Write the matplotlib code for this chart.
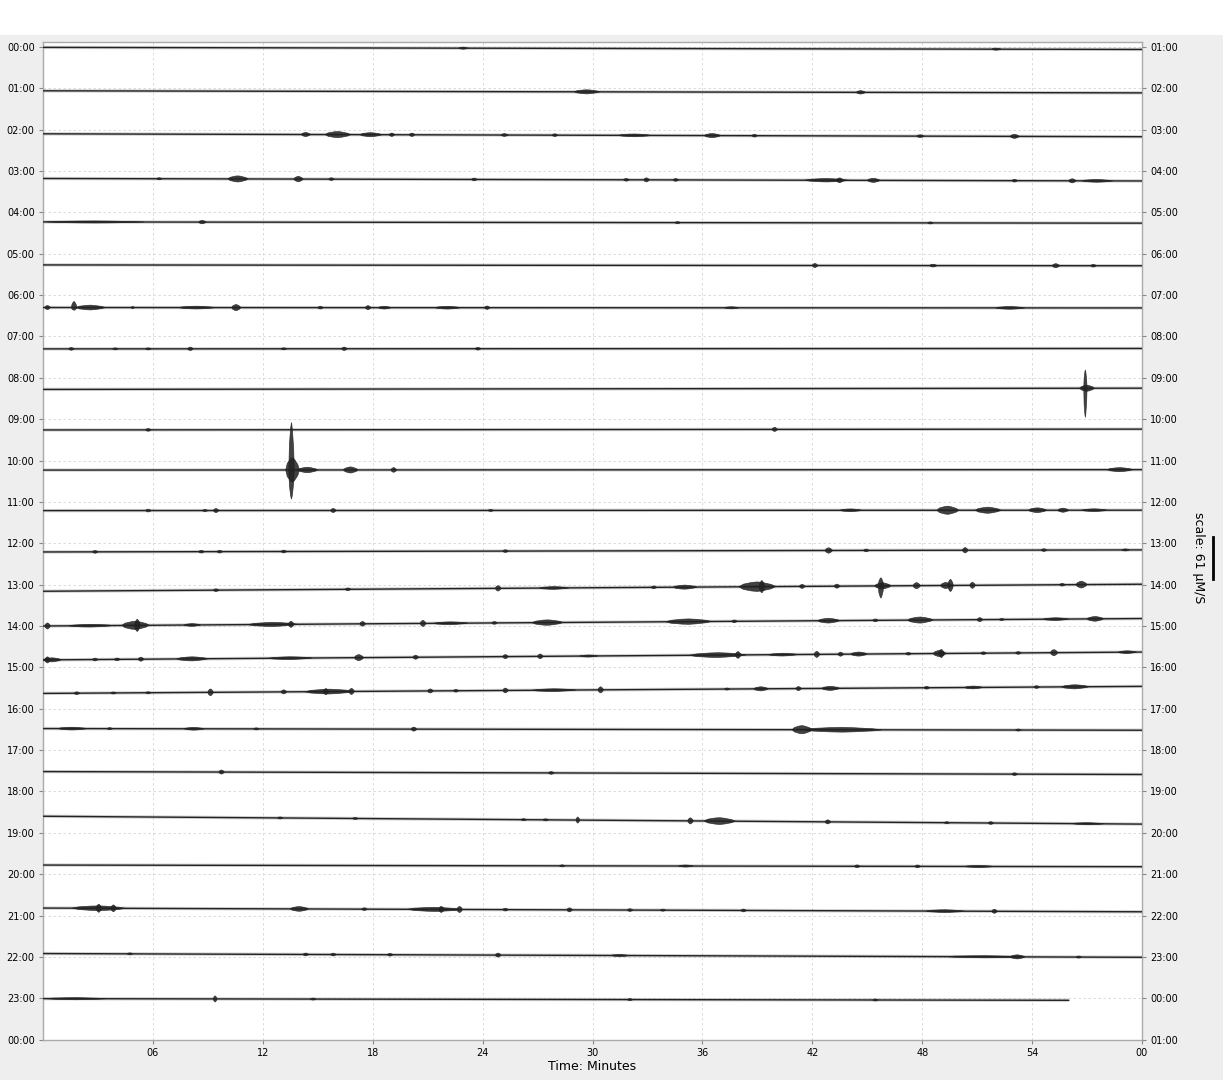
import numpy as np
import matplotlib
matplotlib.use("Agg")
import matplotlib.pyplot as plt
import matplotlib.transforms as mtransforms
from matplotlib.patches import Rectangle
from matplotlib.lines import Line2D

# helicorder: one trace per hour, time in minutes along x
left_labels = [f"{h:02d}:00" for h in range(24)] + ["00:00"]
right_labels = [f"{(h + 1) % 24:02d}:00" for h in range(24)] + ["01:00"]
minute_ticks = [6, 12, 18, 24, 30, 36, 42, 48, 54, 60]
minute_labels = ["06", "12", "18", "24", "30", "36", "42", "48", "54", "00"]
scale_um = 61  # um/s per trace spacing

# baseline (in trace-spacing units) at start and end of each hour
trace_start = [0.01, 1.06, 2.10, 3.18, 4.23, 5.27, 6.30, 7.30, 8.28, 9.26, 10.23, 11.21,
               12.21, 13.16, 14.00, 14.82, 15.63, 16.48, 17.52, 18.60, 19.78, 20.82, 21.92, 23.01]
trace_end = [0.06, 1.11, 2.17, 3.24, 4.26, 5.29, 6.31, 7.29, 8.25, 9.24, 10.22, 11.20,
             12.16, 12.99, 13.82, 14.63, 15.46, 16.52, 17.59, 18.79, 19.82, 20.91, 22.01, 23.05]
trace_minutes = [60] * 23 + [56.0]

# bursts per hour: (start min, end min, up um/s, down um/s)
events = [
    [(22.7, 23.2, 1.5, 1.5), (51.8, 52.3, 1.5, 1.5)],
    [(29.0, 30.4, 3, 3), (44.4, 44.9, 2.5, 2.5)],
    [(14.1, 14.6, 3, 3), (15.4, 16.8, 4.5, 4.5), (17.3, 18.5, 3, 3), (18.9, 19.2, 2.5, 2.5),
     (20.0, 20.3, 2.5, 2.5), (25.0, 25.4, 2, 2), (27.8, 28.1, 2, 2), (31.4, 33.2, 2, 2),
     (36.1, 37.0, 3, 3), (38.7, 39.0, 2, 2), (47.7, 48.1, 2, 2), (52.8, 53.3, 3, 3)],
    [(6.2, 6.5, 1.5, 1.5), (10.1, 11.2, 4.5, 4.5), (13.7, 14.2, 4, 4), (15.6, 15.9, 2, 2),
     (23.4, 23.7, 2, 2), (31.7, 32.0, 2, 2), (32.8, 33.1, 3, 3), (34.4, 34.7, 2, 2),
     (41.6, 44.0, 2.5, 2.5), (43.3, 43.7, 3.5, 3.5), (45.0, 45.7, 3, 3), (52.9, 53.2, 2, 2),
     (56.0, 56.4, 3, 3), (56.7, 58.4, 2, 2)],
    [(0.2, 5.5, 1.5, 1.5), (8.5, 8.9, 2.5, 2.5), (34.5, 34.8, 1.5, 1.5), (48.3, 48.6, 1.5, 1.5)],
    [(42.0, 42.3, 3, 3), (48.4, 48.8, 2, 2), (55.1, 55.5, 3, 3), (57.2, 57.5, 2, 2)],
    [(0.1, 0.4, 3, 3), (1.55, 1.85, 9, 4), (1.8, 3.4, 3.5, 3.5), (4.8, 5.0, 1.5, 1.5),
     (7.4, 9.4, 2, 2), (10.3, 10.8, 4.5, 4.5), (15.0, 15.3, 2, 2), (17.6, 17.9, 3, 3),
     (18.3, 19.0, 2, 2), (21.4, 22.8, 2, 2), (24.1, 24.4, 2.5, 2.5), (37.2, 38.0, 1.5, 1.5),
     (52.0, 53.6, 2, 2)],
    [(1.4, 1.7, 2, 2), (3.8, 4.1, 1.5, 1.5), (5.6, 5.9, 1.5, 1.5), (7.9, 8.2, 2.5, 2.5),
     (13.0, 13.3, 1.5, 1.5), (16.3, 16.6, 2.5, 2.5), (23.6, 23.9, 2, 2)],
    [(56.6, 57.4, 4.5, 4.5), (56.82, 57.0, 27, 43)],
    [(5.6, 5.9, 2, 2), (39.8, 40.1, 3, 3)],
    [(13.25, 14.0, 18, 18), (13.42, 13.72, 70, 43), (13.9, 15.0, 4, 4), (16.4, 17.2, 4.5, 4.5),
     (19.0, 19.3, 3.5, 3.5), (58.1, 59.5, 3, 3)],
    [(5.6, 5.9, 2, 2), (8.7, 9.0, 1.5, 1.5), (9.3, 9.6, 3, 3), (15.7, 16.0, 3, 3),
     (24.3, 24.6, 1.5, 1.5), (43.5, 44.7, 2, 2), (48.8, 50.0, 6, 6), (50.9, 52.3, 4.5, 4.5),
     (53.8, 54.8, 3.5, 3.5), (55.4, 56.0, 3, 3), (56.7, 58.1, 2, 2)],
    [(2.7, 3.0, 2, 2), (8.5, 8.8, 2, 2), (9.5, 9.8, 2, 2), (13.0, 13.3, 2, 2), (25.1, 25.4, 2, 2),
     (42.7, 43.1, 4, 4), (44.8, 45.1, 2, 2), (50.2, 50.5, 4, 4), (54.5, 54.8, 2, 2),
     (58.9, 59.3, 1.5, 1.5)],
    [(9.3, 9.6, 2, 2), (16.5, 16.8, 2, 2), (24.7, 25.0, 4, 4), (27.1, 28.7, 2, 2),
     (33.2, 33.5, 2, 2), (34.4, 35.7, 3, 3), (38.0, 40.0, 7, 7), (39.1, 39.4, 9, 9),
     (41.3, 41.6, 3, 3), (43.2, 43.5, 3, 3), (45.4, 46.3, 4.5, 4.5), (45.6, 45.9, 12, 18),
     (47.5, 47.9, 4.5, 4.5), (49.0, 49.6, 4.5, 4.5), (49.4, 49.7, 9, 9), (50.6, 50.9, 4.5, 4.5),
     (55.5, 55.8, 2, 2), (56.4, 57.0, 5, 5)],
    [(0.1, 0.4, 4.5, 4.5), (1.4, 3.8, 2, 2), (4.3, 5.8, 6, 6), (5.0, 5.3, 9, 9), (7.7, 8.6, 2, 2),
     (11.2, 13.9, 3, 3), (13.4, 13.7, 4.5, 4.5), (17.3, 17.6, 3.5, 3.5), (20.6, 20.9, 4.5, 4.5),
     (21.3, 23.2, 2, 2), (24.5, 24.8, 2, 2), (26.7, 28.4, 4, 4), (34.0, 36.5, 4, 4),
     (37.6, 37.9, 2, 2), (42.3, 43.5, 3.5, 3.5), (45.3, 45.6, 2, 2), (47.2, 48.6, 4.5, 4.5),
     (51.0, 51.3, 3, 3), (52.2, 52.5, 1.5, 1.5), (54.6, 56.0, 2, 2), (57.0, 57.9, 3.5, 3.5)],
    [(0.0, 1.0, 3, 3), (0.1, 0.4, 4.5, 4.5), (2.7, 3.0, 2, 2), (3.9, 4.2, 2, 2), (5.2, 5.5, 3, 3),
     (7.3, 9.0, 3, 3), (12.3, 14.7, 2, 2), (17.0, 17.5, 4.5, 4.5), (20.2, 20.5, 3, 3),
     (25.1, 25.4, 3, 3), (27.0, 27.3, 3.5, 3.5), (29.3, 30.3, 1.5, 1.5), (35.3, 38.4, 3.5, 3.5),
     (37.8, 38.1, 5, 5), (39.6, 41.2, 2, 2), (42.1, 42.4, 4.5, 4.5), (43.4, 43.7, 3, 3),
     (44.1, 45.0, 3, 3), (47.1, 47.4, 2, 2), (48.6, 49.3, 4.5, 4.5), (48.9, 49.2, 6, 6),
     (51.2, 51.5, 2, 2), (53.1, 53.4, 2, 2), (55.0, 55.4, 4.5, 4.5), (58.7, 59.7, 2, 2)],
    [(1.7, 2.0, 2, 2), (3.7, 4.0, 1.5, 1.5), (5.6, 5.9, 1.5, 1.5), (9.0, 9.3, 5, 5),
     (13.0, 13.3, 3, 3), (14.3, 17.0, 3.5, 3.5), (15.3, 15.6, 4.5, 4.5), (16.7, 17.0, 4.5, 4.5),
     (21.0, 21.3, 3, 3), (22.4, 22.7, 2, 2), (25.1, 25.4, 3.5, 3.5), (26.7, 29.1, 2, 2),
     (30.3, 30.6, 4.5, 4.5), (37.2, 37.5, 1.5, 1.5), (38.8, 39.6, 3, 3), (41.1, 41.4, 3, 3),
     (42.5, 43.5, 3, 3), (48.1, 48.4, 2, 2), (50.3, 51.3, 2, 2), (54.1, 54.4, 2, 2),
     (55.6, 57.1, 3, 3)],
    [(0.8, 2.4, 2, 2), (3.5, 3.8, 1.5, 1.5), (7.7, 8.8, 2, 2), (11.5, 11.8, 1.5, 1.5),
     (20.1, 20.4, 3, 3), (40.9, 42.0, 6, 6), (41.5, 45.8, 3.5, 3.5), (53.1, 53.4, 1.5, 1.5)],
    [(9.6, 9.9, 3, 3), (27.6, 27.9, 2, 2), (52.9, 53.2, 2, 2)],
    [(12.8, 13.1, 1.5, 1.5), (16.9, 17.2, 1.5, 1.5), (26.1, 26.4, 1.5, 1.5), (27.3, 27.6, 1.5, 1.5),
     (29.1, 29.3, 4.5, 4.5), (35.2, 35.5, 4.5, 4.5), (36.1, 37.8, 5, 5), (42.7, 43.0, 3, 3),
     (49.2, 49.5, 1.5, 1.5), (51.6, 51.9, 2, 2), (56.2, 57.9, 1.5, 1.5)],
    [(28.2, 28.5, 1.5, 1.5), (34.7, 35.5, 1.5, 1.5), (44.3, 44.6, 2, 2), (47.6, 47.9, 2, 2),
     (50.3, 51.9, 1.5, 1.5)],
    [(1.6, 4.5, 3.5, 3.5), (2.9, 3.2, 6, 6), (3.7, 4.0, 5, 5), (13.5, 14.5, 3.5, 3.5),
     (17.4, 17.7, 2, 2), (19.9, 22.9, 3, 3), (21.6, 21.9, 4.5, 4.5), (22.6, 22.9, 4.5, 4.5),
     (25.1, 25.4, 2, 2), (28.6, 28.9, 3, 3), (31.9, 32.2, 2, 2), (33.7, 34.0, 1.5, 1.5),
     (38.1, 38.4, 2, 2), (48.2, 50.3, 2, 2), (51.8, 52.1, 3, 3)],
    [(4.6, 4.9, 1.5, 1.5), (14.2, 14.5, 2, 2), (15.7, 16.0, 2, 2), (18.8, 19.1, 2, 2),
     (24.7, 25.0, 3, 3), (31.0, 32.0, 1.5, 1.5), (49.3, 53.6, 1.5, 1.5), (52.8, 53.6, 3, 3),
     (56.4, 56.7, 1.5, 1.5)],
    [(0.2, 3.4, 1.5, 1.5), (9.3, 9.5, 4.5, 4.5), (14.6, 14.9, 1.5, 1.5), (31.9, 32.2, 1.5, 1.5),
     (45.3, 45.6, 1.5, 1.5)],
]

# burst glyph outline (fractions of duration / of amplitude), roughly a rounded blob
glyph_pos = [0.0, 0.12, 0.35, 0.5, 0.65, 0.88, 1.0]
glyph_amp = [0.0, 0.55, 0.9, 1.0, 0.85, 0.45, 0.0]

W, H = 1223, 1080
fig = plt.figure(figsize=(W / 100, H / 100), dpi=100, facecolor="#eeeeee")
fig.patches.append(Rectangle((0, 1 - 35 / H), 1, 35 / H, transform=fig.transFigure,
                             facecolor="white", edgecolor="none", zorder=0))

ax = fig.add_axes([43 / W, 40 / H, 1099 / W, 998 / H])
ax.set_facecolor("white")
ax.set_xlim(0, 60)
ax.set_ylim(24.01, -0.12)

trace_color = "#222222"
for h in range(24):
    t = [0, trace_minutes[h]]
    y = [trace_start[h], trace_end[h]]
    ax.plot(t, y, color="#777777", lw=2.4, alpha=0.35, solid_capstyle="butt", zorder=2)
    ax.plot(t, y, color=trace_color, lw=1.0, zorder=3)
    for (t0, t1, up, down) in events[h]:
        xs = [t0 + p * (t1 - t0) for p in glyph_pos]
        base = np.interp(xs, t, y)
        top = [b - a * up / scale_um for b, a in zip(base, glyph_amp)]
        bot = [b + a * down / scale_um for b, a in zip(base, glyph_amp)]
        ax.fill(xs + xs[::-1], top + bot[::-1], facecolor=trace_color,
                edgecolor=trace_color, lw=0.5, alpha=0.85, zorder=4)

ax.set_xticks(minute_ticks)
ax.set_xticklabels(minute_labels)
ax.set_yticks(range(25))
ax.set_yticklabels(left_labels)
ax.grid(True, color="#d6d6d6", lw=0.6, ls=(0, (3, 3)), zorder=1)
ax.set_axisbelow(True)
ax.tick_params(axis="both", labelsize=7, length=3, width=0.8, color="#888888", pad=3)
ax.set_xlabel("Time: Minutes", fontsize=9, labelpad=1)
for s in ax.spines.values():
    s.set_color("#aaaaaa")
    s.set_linewidth(1.0)

ax2 = ax.twinx()
ax2.set_ylim(ax.get_ylim())
ax2.set_yticks(range(25))
ax2.set_yticklabels(right_labels)
ax2.tick_params(axis="y", labelsize=7, length=3, width=0.8, color="#888888", pad=3)
for s in ax2.spines.values():
    s.set_visible(False)

# scale bar: one trace spacing = scale_um
fig.text(1198 / W, 1 - 558 / H, f"scale: {scale_um} \u00b5M/S", rotation=270,
         ha="center", va="center", fontsize=9)
trans = mtransforms.blended_transform_factory(fig.transFigure, ax.transData)
fig.add_artist(Line2D([1213 / W, 1213 / W], [11.86, 11.86 + scale_um / scale_um],
                      transform=trans, color="black", lw=2))

fig.savefig("out.png", dpi=100, facecolor=fig.get_facecolor())
